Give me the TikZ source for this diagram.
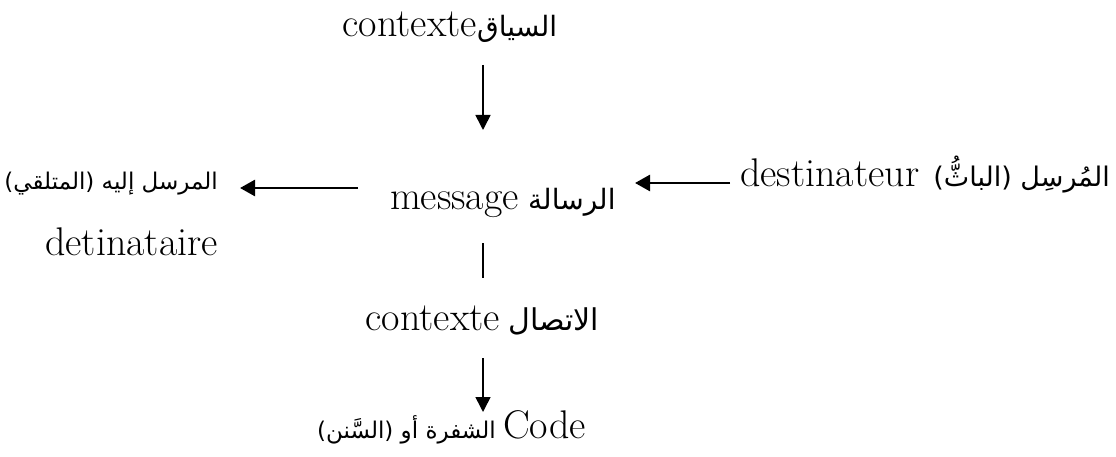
\documentclass[tikz,border=0pt]{standalone}
\usepackage{fontspec}
\newfontfamily\arabicfont[Script=Arabic]{DejaVu Sans}
\TeXXeTstate=1
\usetikzlibrary{arrows.meta}
\tikzset{
  lat/.style={inner sep=0pt, font=\fontsize{40}{44}\selectfont},
  arb/.style={inner sep=0pt, font=\arabicfont\fontsize{28}{32}\selectfont},
  arbs/.style={inner sep=0pt, font=\arabicfont\fontsize{23}{28}\selectfont},
  varrow/.style={line width=1.6pt, -{Triangle[length=15pt,width=15pt]}},
  harrow/.style={line width=2.6pt, -{Triangle[length=15pt,width=16pt]}},
  plainline/.style={line width=1.6pt}
}
\begin{document}
\begin{tikzpicture}[x=1pt,y=-1pt]
\useasboundingbox (0,0) rectangle (1116,457);
% top
\node[lat, anchor=base east] (ctxT) at (477,37) {contexte};
\node[arb, anchor=base west] (siyaq) at (477,37) {\beginR السياق\endR};
% middle
\node[lat, anchor=base east] (msg) at (519,210) {message};
\node[arb, anchor=base west] (risala) at (528,210) {\beginR الرسالة\endR};
\node[lat, anchor=base west] (destin) at (740,186) {destinateur};
\node[arb, anchor=base east, font=\arabicfont\fontsize{27}{32}\selectfont] (mursil) at (1110,186) {\beginR المُرسِل (الباثُّ)\endR};
\node[arbs, anchor=base east] (mursililayh) at (218,190) {\beginR المرسل إليه (المتلقي)\endR};
\node[lat, anchor=base east] (detin) at (218,255) {detinataire};
% bottom
\node[lat, anchor=base east] (ctxB) at (500,330) {contexte};
\node[arb, anchor=base west, font=\arabicfont\fontsize{30}{34}\selectfont] (ittisal) at (508,330) {\beginR الاتصال\endR};
\node[arbs, anchor=base east] (shifra) at (496,438) {\beginR الشفرة أو (السَّنن)\endR};
\node[lat, anchor=base west] (code) at (503,438) {Code};
% connectors
\coordinate (a1s) at (483,65);
\coordinate (a1e) at (483,130);
\coordinate (a2s) at (730,183);
\coordinate (a2e) at (635,183);
\coordinate (a3s) at (358,188);
\coordinate (a3e) at (240,188);
\coordinate (l1s) at (483,243);
\coordinate (l1e) at (483,278);
\coordinate (a4s) at (483,358);
\coordinate (a4e) at (483,412);
\draw[varrow] (a1s) -- (a1e);
\draw[harrow] (a2s) -- (a2e);
\draw[harrow] (a3s) -- (a3e);
\draw[plainline] (l1s) -- (l1e);
\draw[varrow] (a4s) -- (a4e);
\end{tikzpicture}
\end{document}
